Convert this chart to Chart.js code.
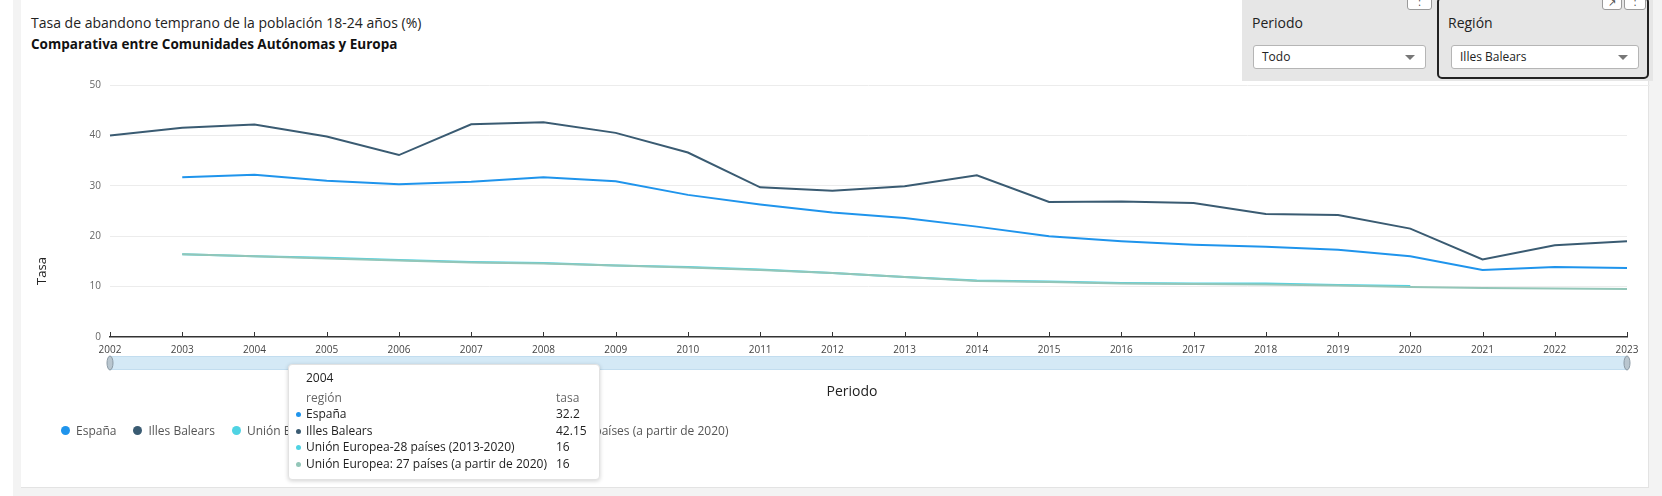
<!DOCTYPE html>
<html>
<head>
<meta charset="utf-8">
<script src="https://cdn.jsdelivr.net/npm/chart.js@4.4.1/dist/chart.umd.min.js"></script>
<style>
  html, body { margin: 0; padding: 0; }
  body {
    width: 1662px; height: 496px; overflow: hidden; position: relative;
    background: #f3f3f3; font-family: 'Open Sans', sans-serif; color: #222;
  }
  .strip-left { position: absolute; left: 0; top: 0; width: 13px; height: 496px; background: #fff; }
  .card {
    position: absolute; left: 21px; top: 0; width: 1627px; height: 487px; background: #fff;
    border-right: 1px solid #e3e3e3; border-bottom: 1px solid #e3e3e3;
  }
  .title { position: absolute; left: 31px; top: 13px; font-size: 14px; color: #222; white-space: nowrap; }
  .subtitle { position: absolute; left: 31px; top: 35px; font-size: 13.5px; font-weight: 700; color: #111; white-space: nowrap; }
  #chart-wrap { position: absolute; left: 0; top: 0; width: 1662px; height: 496px; }

  .controls { position: absolute; left: 1242px; top: 0; width: 411px; height: 81px; background: #e6e6e6; }
  .under-line { position: absolute; left: 1248px; top: 85px; width: 402px; height: 1px; background: #ececec; }
  .region-box {
    position: absolute; left: 1437px; top: -3px; width: 212px; height: 82px;
    border: 2px solid #222; border-radius: 5px; box-sizing: border-box;
  }
  .ctl-label { position: absolute; top: 13px; font-size: 14px; color: #222; }
  .dropdown {
    position: absolute; top: 45px; height: 24px; background: #fff; border: 1px solid #b5b5b5;
    border-radius: 3px; box-sizing: border-box; font-size: 12px; line-height: 22px; padding-left: 8px; color: #222;
  }
  .dropdown:after {
    content: ''; position: absolute; right: 10px; top: 9px;
    border-left: 5px solid transparent; border-right: 5px solid transparent; border-top: 5px solid #777;
  }
  .kebab {
    position: absolute; top: -6px; height: 16px; background: #fff; border: 1px solid #9a9a9a;
    border-radius: 3px; box-sizing: border-box; font-size: 10px; line-height: 14px; text-align: center; color: #444;
  }

  #visit-legend { position: absolute; left: 61px; top: 422px; }
  #visit-legend ul { list-style: none; margin: 0; padding: 0; display: flex; }
  #visit-legend li { display: flex; align-items: center; font-size: 12px; color: #555; margin-right: 17px; white-space: nowrap; }
  #visit-legend li span { display: inline-block; width: 9px; height: 9px; border-radius: 50%; margin-right: 6px; }

  #tip {
    position: absolute; left: 288px; top: 364px; width: 312px; height: 116px; box-sizing: border-box;
    background: #fff; border: 1px solid #e2e2e2; border-radius: 4px; box-shadow: 0 1px 4px rgba(0,0,0,0.18);
    font-size: 12px; color: #222; display: none;
  }
  #tip .t-title { position: absolute; left: 17px; top: 4px; font-size: 12px; }
  #tip .t-row { position: absolute; left: 17px; right: 0; height: 16px; line-height: 16px; white-space: nowrap; }
  #tip .t-row .dot { position: absolute; left: -10px; top: 6px; width: 5px; height: 5px; border-radius: 50%; }
  #tip .t-row .val { position: absolute; left: 250px; }
  #tip .t-head { color: #666; }
</style>
</head>
<body>
<div class="strip-left"></div>
<div class="card"></div>
<div class="title">Tasa de abandono temprano de la población 18-24 años (%)</div>
<div class="subtitle">Comparativa entre Comunidades Autónomas y Europa</div>

<div class="controls"></div>
<div class="under-line"></div>
<div class="region-box"></div>
<div class="ctl-label" style="left:1252px">Periodo</div>
<div class="dropdown" style="left:1253px; width:173px">Todo</div>
<div class="ctl-label" style="left:1448px">Región</div>
<div class="dropdown" style="left:1451px; width:188px">Illes Balears</div>
<div class="kebab" style="left:1407px; width:25px">:</div>
<div class="kebab" style="left:1602px; width:20px">&#8599;</div>
<div class="kebab" style="left:1624px; width:22px">:</div>

<div id="chart-wrap"><canvas id="visit-chart"></canvas></div>
<div id="visit-legend"></div>
<div id="tip"></div>

<script>
  // periods and series
  const years = ['2002', '2003', '2004', '2005', '2006', '2007', '2008', '2009', '2010', '2011', '2012',
    '2013', '2014', '2015', '2016', '2017', '2018', '2019', '2020', '2021', '2022', '2023'];
  const espana = [null, 31.7, 32.2, 31.0, 30.3, 30.8, 31.7, 30.9, 28.2, 26.3, 24.7,
    23.6, 21.9, 20.0, 19.0, 18.3, 17.9, 17.3, 16.0, 13.3, 13.9, 13.7];
  const illesBalears = [40.0, 41.5, 42.15, 39.8, 36.1, 42.2, 42.6, 40.5, 36.6, 29.7, 29.0,
    29.9, 32.1, 26.8, 26.9, 26.6, 24.4, 24.2, 21.5, 15.4, 18.2, 19.0];
  const ue28 = [null, 16.4, 16, 15.7, 15.3, 14.9, 14.7, 14.2, 13.9, 13.4, 12.7,
    11.9, 11.2, 11.0, 10.7, 10.6, 10.6, 10.3, 10.1, null, null, null];
  const ue27 = [null, 16.4, 16, 15.6, 15.2, 14.8, 14.6, 14.2, 13.8, 13.3, 12.7,
    11.9, 11.1, 10.9, 10.6, 10.5, 10.4, 10.2, 9.9, 9.7, 9.6, 9.5];
  const yTicks = [0, 10, 20, 30, 40, 50];
  const hoverIndex = 2; // 2004

  const FONT = "'Open Sans', sans-serif";

  function lineSet(label, data, color, order) {
    return {
      label: label,
      data: data,
      borderColor: color,
      backgroundColor: color,
      legendColor: color,
      borderWidth: 2,
      pointRadius: 0,
      pointHoverRadius: 0,
      tension: 0,
      fill: false,
      spanGaps: false,
      order: order
    };
  }

  // tick marks pointing up from the axis, the range slider, and the two axis titles
  const axisExtras = {
    id: 'axisExtras',
    afterDraw: function (chart) {
      const ctx = chart.ctx;
      const x = chart.scales.x;
      const area = chart.chartArea;
      ctx.save();
      ctx.strokeStyle = '#333';
      ctx.lineWidth = 1;
      x.ticks.forEach(function (t, i) {
        const px = Math.round(x.getPixelForTick(i)) + 0.5;
        ctx.beginPath();
        ctx.moveTo(px, area.bottom);
        ctx.lineTo(px, area.bottom - 5);
        ctx.stroke();
      });

      // slider
      const top = area.bottom + 19;
      ctx.fillStyle = '#d4e9f6';
      ctx.fillRect(area.left, top, area.right - area.left, 14);
      ctx.strokeStyle = '#c2ddef';
      ctx.strokeRect(area.left + 0.5, top + 0.5, area.right - area.left - 1, 13);
      [area.left, area.right].forEach(function (hx) {
        ctx.beginPath();
        ctx.ellipse(hx, top + 7, 3, 7, 0, 0, Math.PI * 2);
        ctx.fillStyle = '#b9c6cf';
        ctx.fill();
        ctx.strokeStyle = '#8b9aa5';
        ctx.stroke();
      });

      ctx.fillStyle = '#222';
      ctx.textAlign = 'center';
      ctx.textBaseline = 'middle';
      ctx.font = '14px ' + FONT;
      ctx.fillText('Periodo', 852, 392);

      ctx.font = '13px ' + FONT;
      ctx.translate(42, 271);
      ctx.rotate(-Math.PI / 2);
      ctx.fillText('Tasa', 0, 0);
      ctx.restore();
    }
  };

  const htmlLegend = {
    id: 'htmlLegend',
    afterUpdate: function (chart) {
      const box = document.getElementById('visit-legend');
      const ul = document.createElement('ul');
      chart.data.datasets.forEach(function (ds) {
        ul.innerHTML += '<li><span style="background-color:' + ds.legendColor + '"></span>' + ds.label + '</li>';
      });
      box.innerHTML = '';
      box.appendChild(ul);
    }
  };

  function externalTip(context) {
    const tip = document.getElementById('tip');
    const tooltip = context.tooltip;
    if (tooltip.opacity === 0) { tip.style.display = 'none'; return; }
    let html = '<div class="t-title">' + tooltip.title[0] + '</div>';
    html += '<div class="t-row t-head" style="top:25px">región<span class="val">tasa</span></div>';
    tooltip.dataPoints.forEach(function (dp, i) {
      html += '<div class="t-row" style="top:' + (41 + i * 16.5) + 'px">' +
        '<span class="dot" style="background:' + dp.dataset.legendColor + '"></span>' +
        dp.dataset.label + '<span class="val">' + dp.raw + '</span></div>';
    });
    tip.innerHTML = html;
    tip.style.display = 'block';
  }

  const ctx = document.getElementById('visit-chart');
  const chart = new Chart(ctx, {
    type: 'line',
    data: {
      labels: years,
      datasets: [
        lineSet('España', espana, '#1f94ec', 2),
        lineSet('Illes Balears', illesBalears, '#3a5b72', 1),
        lineSet('Unión Europea-28 países (2013-2020)', ue28, '#4fd3e3', 4),
        lineSet('Unión Europea: 27 países (a partir de 2020)', ue27, '#93c6b8', 3)
      ]
    },
    options: {
      responsive: true,
      maintainAspectRatio: false,
      animation: false,
      events: [],
      layout: {
        padding: { left: 30, right: 35, top: 85, bottom: 133 }
      },
      interaction: { mode: 'index', intersect: false },
      scales: {
        x: {
          type: 'category',
          offset: false,
          grid: { display: false, drawTicks: false },
          border: { display: true, color: '#333', width: 1.5 },
          ticks: {
            color: '#444', font: { family: FONT, size: 10 }, padding: 7,
            maxRotation: 0, autoSkip: false
          }
        },
        y: {
          min: 0,
          max: 50,
          afterBuildTicks: function (scale) {
            scale.ticks = yTicks.map(function (v) { return { value: v }; });
          },
          afterFit: function (scale) { scale.width = 80; },
          grid: {
            color: function (c) { return c.tick && c.tick.value === 0 ? 'rgba(0,0,0,0)' : '#ececec'; },
            drawTicks: false
          },
          border: { display: false },
          ticks: { color: '#666', font: { family: FONT, size: 10 }, padding: 9 }
        }
      },
      plugins: {
        legend: { display: false },
        tooltip: { enabled: false, external: externalTip }
      }
    },
    plugins: [axisExtras, htmlLegend]
  });

  const active = chart.data.datasets.map(function (ds, i) { return { datasetIndex: i, index: hoverIndex }; });
  chart.tooltip.setActiveElements(active, { x: 300, y: 340 });
  chart.update();
</script>
</body>
</html>
